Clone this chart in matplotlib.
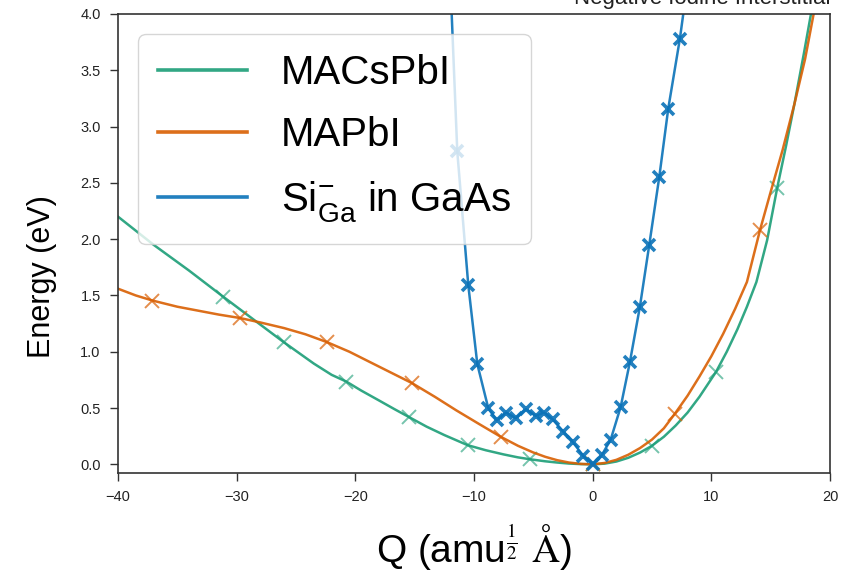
import matplotlib
matplotlib.use('Agg')
import matplotlib.pyplot as plt

plt.rcParams['font.family'] = ['Liberation Sans', 'DejaVu Sans']
plt.rcParams['mathtext.fontset'] = 'custom'
plt.rcParams['mathtext.rm'] = 'Liberation Sans'
plt.rcParams['mathtext.it'] = 'Liberation Sans:italic'
plt.rcParams['mathtext.bf'] = 'Liberation Sans:bold'

# ---------------- data ----------------
# MACsPbI calculated points
macs_q = [-31.15, -26.03, -20.76, -15.48, -10.53, -5.28, 0.0, 4.97, 10.39, 15.55]
macs_e = [1.49, 1.085, 0.735, 0.42, 0.17, 0.045, 0.0, 0.163, 0.82, 2.455]
# MACsPbI fitted curve
macs_fit_q = [-40, -37, -34, -31.15, -28.5, -26.03, -23.5, -22, -20.76, -19.5, -18, -16.7,
              -15.48, -14, -12.5, -10.53, -9, -7.5, -6.3, -5.28, -4, -3, -2, -1, 0,
              1, 2, 3, 4, 4.97, 6, 7, 8, 9, 10.39, 11.3, 12.2, 13, 13.8, 14.7, 15.55,
              16.3, 17, 17.8, 18.6]
macs_fit_e = [2.20, 1.95, 1.72, 1.49, 1.28, 1.085, 0.895, 0.795, 0.735, 0.655, 0.567, 0.49,
              0.42, 0.335, 0.26, 0.17, 0.125, 0.088, 0.062, 0.045, 0.027, 0.016, 0.007,
              0.002, 0.0, 0.006, 0.025, 0.058, 0.105, 0.163, 0.245, 0.345, 0.46, 0.6, 0.82,
              1.0, 1.2, 1.4, 1.62, 1.99, 2.455, 2.83, 3.2, 3.65, 4.12]

# MAPbI calculated points
ma_q = [-37.1, -29.74, -22.38, -15.2, -7.75, 0.0, 6.93, 14.1]
ma_e = [1.455, 1.30, 1.085, 0.72, 0.245, 0.0, 0.45, 2.08]
# MAPbI fitted curve
ma_fit_q = [-40, -38.5, -37.1, -35, -33, -31.5, -29.74, -28, -26, -24.2, -22.38, -20.5,
            -18.8, -17, -15.2, -13.3, -11.5, -9.6, -7.75, -6.3, -5, -4, -3, -2, -1, 0,
            1, 2, 3, 4, 5, 6, 6.93, 8, 9, 10, 11, 12, 13, 14.1, 15, 16.0, 17, 17.9, 18.8]
ma_fit_e = [1.56, 1.50, 1.455, 1.40, 1.36, 1.33, 1.30, 1.26, 1.21, 1.155, 1.085, 1.00,
            0.91, 0.815, 0.72, 0.60, 0.48, 0.36, 0.245, 0.165, 0.105, 0.067, 0.037, 0.016,
            0.004, 0.0, 0.012, 0.04, 0.085, 0.145, 0.22, 0.32, 0.45, 0.61, 0.78, 0.96,
            1.16, 1.38, 1.62, 2.08, 2.42, 2.79, 3.2, 3.6, 4.1]

# Si_Ga^- in GaAs points
si_q = [-11.41, -10.48, -9.72, -8.80, -8.09, -7.30, -6.49, -5.62, -4.80, -4.10, -3.37,
        -2.48, -1.68, -0.79, 0.0, 0.76, 1.52, 2.36, 3.14, 3.98, 4.77, 5.61, 6.37, 7.35]
si_e = [2.78, 1.59, 0.89, 0.50, 0.39, 0.46, 0.41, 0.49, 0.43, 0.46, 0.40,
        0.29, 0.20, 0.074, 0.0, 0.08, 0.22, 0.51, 0.91, 1.40, 1.95, 2.55, 3.16, 3.78]
# curve ends beyond the plotted window
si_end_q = [-11.9, 7.7]
si_end_e = [4.05, 4.05]

labels = ['MACsPbI', 'MAPbI', r'Si$_{\mathrm{Ga}}^{-}$ in GaAs']
colors = ['#1b9e77', '#d95f02', '#0a72b8']

xticks = [-40, -30, -20, -10, 0, 10, 20]
yticks = [0.0, 0.5, 1.0, 1.5, 2.0, 2.5, 3.0, 3.5, 4.0]

# ---------------- figure ----------------
fig = plt.figure(figsize=(8.51, 5.72), dpi=100)
ax = fig.add_axes([118/851, 1 - 473/572, (830 - 118)/851, (473 - 14)/572])

ax.plot(macs_fit_q, macs_fit_e, color=colors[0], lw=1.8, alpha=0.9, label=labels[0])
ax.plot(macs_q, macs_e, 'x', color=colors[0], ms=10, mew=1.4, alpha=0.6)

ax.plot(ma_fit_q, ma_fit_e, color=colors[1], lw=1.8, alpha=0.9, label=labels[1])
ax.plot(ma_q, ma_e, 'x', color=colors[1], ms=10, mew=1.4, alpha=0.7)

si_line_q = [si_end_q[0]] + si_q + [si_end_q[1]]
si_line_e = [si_end_e[0]] + si_e + [si_end_e[1]]
ax.plot(si_line_q, si_line_e, color=colors[2], lw=1.8, alpha=0.9, label=labels[2])
ax.plot(si_q, si_e, 'x', color=colors[2], ms=8, mew=2.6, alpha=0.9)

ax.set_xlim(-40, 20)
ax.set_ylim(-0.077, 4.0)
ax.set_xticks(xticks)
ax.set_yticks(yticks)
ax.set_xticklabels([f'{t:d}'.replace('-', '\u2212') for t in xticks])
ax.set_yticklabels([f'{t:.1f}' for t in yticks])
ax.tick_params(labelsize=10.5, length=5.5, width=1.0, color='#333333', pad=7,
               labelcolor='#222222')
for s in ax.spines.values():
    s.set_color('#333333')
    s.set_linewidth(1.2)

ax.set_xlabel(r'Q (amu$^{\frac{1}{2}}$ $\mathrm{\AA}$)', fontsize=28, labelpad=13,
              math_fontfamily='stix')
ax.set_ylabel('Energy (eV)', fontsize=22)
ax.yaxis.set_label_coords(-0.086, 0.427)

leg = ax.legend(loc='upper left', fontsize=29, handlelength=2.2, labelspacing=0.6,
                borderpad=0.5, handletextpad=0.85, frameon=True, framealpha=0.8)
for h in leg.get_lines():
    h.set_linewidth(2.6)

fig.text(830/851, 1 - 4/572, 'Negative Iodine Interstitial', ha='right', va='baseline',
         fontsize=16, color='#222222')

fig.savefig('out.png', dpi=100)
